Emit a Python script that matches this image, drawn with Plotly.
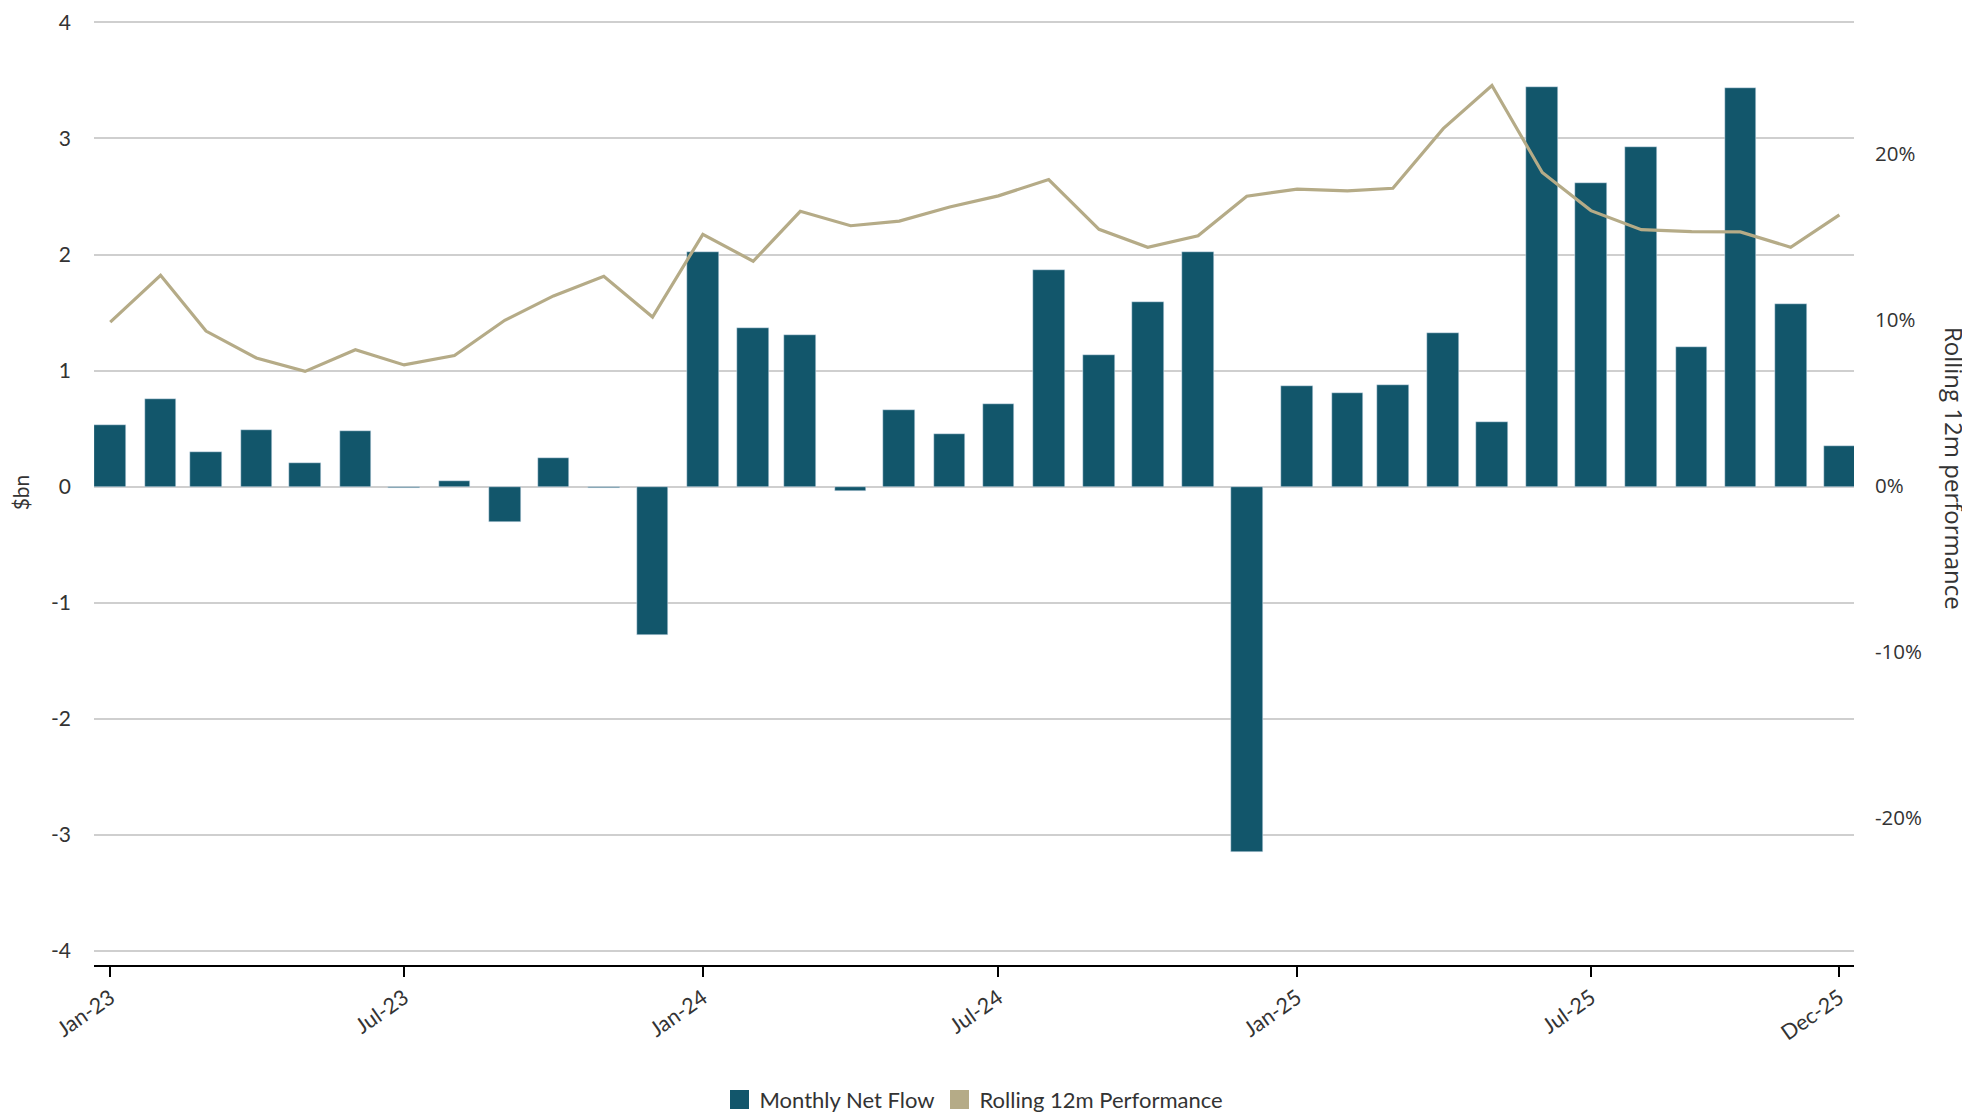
import plotly.graph_objects as go

months = [f"{y}-{m:02d}-01" for y in (2023, 2024, 2025) for m in range(1, 13)]

net_flow = [0.53, 0.755, 0.30, 0.486, 0.20, 0.477, -0.015, 0.053, -0.30, 0.245, -0.015, -1.28,
            2.02, 1.37, 1.31, -0.04, 0.66, 0.452, 0.712, 1.864, 1.136, 1.588, 2.02, -3.15,
            0.867, 0.808, 0.876, 1.328, 0.557, 3.443, 2.619, 2.923, 1.204, 3.433, 1.57, 0.347]

rolling_perf = [9.88, 12.70, 9.34, 7.72, 6.91, 8.21, 7.30, 7.87, 9.99, 11.46, 12.64, 10.19,
                15.17, 13.55, 16.56, 15.69, 15.97, 16.82, 17.49, 18.47, 15.47, 14.39, 15.08, 17.47,
                17.90, 17.79, 17.95, 21.54, 24.14, 18.90, 16.60, 15.45, 15.34, 15.32, 14.39, 16.34]
rolling_perf = [v / 100 for v in rolling_perf]

tick_dates = ["2023-01-01", "2023-07-01", "2024-01-01", "2024-07-01", "2025-01-01", "2025-07-01", "2025-12-01"]
tick_labels = ["Jan-23", "Jul-23", "Jan-24", "Jul-24", "Jan-25", "Jul-25", "Dec-25"]
left_ticks = [-4, -3, -2, -1, 0, 1, 2, 3, 4]
left_labels = ["-4", "-3", "-2", "-1", "0", "1", "2", "3", "4"]
right_ticks = [-0.2, -0.1, 0, 0.1, 0.2]
right_labels = ["-20%", "-10%", "0%", "10%", "20%"]

BAR = "#12566b"
LINE = "#b5ab87"
TXT = "#333333"
FONT = "Lato"
FONT_R = "Open Sans"

fig = go.Figure()
fig.add_trace(go.Bar(x=months, y=net_flow, name="Monthly Net Flow", marker_color=BAR,
                     width=19.5 * 86400000, yaxis="y", showlegend=False))
fig.add_trace(go.Scatter(x=months, y=rolling_perf, mode="lines", line=dict(color=LINE, width=3.2),
                         name="Rolling 12m Performance", yaxis="y2", showlegend=False))
fig.add_trace(go.Scatter(x=[None], y=[None], mode="markers", yaxis="y",
                         marker=dict(symbol="square", size=16, color=BAR, line=dict(color=BAR, width=3)),
                         name="Monthly Net Flow"))
fig.add_trace(go.Scatter(x=[None], y=[None], mode="markers", yaxis="y2",
                         marker=dict(symbol="square", size=16, color=LINE, line=dict(color=LINE, width=3)),
                         name="Rolling 12m Performance"))

fig.update_layout(
    width=1970, height=1114,
    margin=dict(l=86, r=124, t=12, b=157),
    plot_bgcolor="white", paper_bgcolor="white",
    font=dict(family=FONT, size=21, color=TXT),
    bargap=0,
    xaxis=dict(type="date", range=["2022-12-22", "2025-12-10"], tickvals=tick_dates, ticktext=tick_labels,
               tickangle=-35, showgrid=False, showline=True, linecolor="black", linewidth=2,
               ticks="outside", ticklen=10, tickwidth=2, tickcolor="black", automargin=False,
               tickfont=dict(size=21.5, color=TXT)),
    yaxis=dict(range=[-4.12, 4.02], tickvals=left_ticks, ticktext=left_labels, showgrid=True,
               gridcolor="#cfcfcf", gridwidth=2, automargin=False,
               zeroline=False, ticks="", ticklabelstandoff=22,
               title=dict(text="$bn", font=dict(size=21, color=TXT), standoff=28),
               tickfont=dict(size=21, color=TXT)),
    yaxis2=dict(range=[-0.2887, 0.2809], overlaying="y", side="right", tickvals=right_ticks,
                ticktext=right_labels, showgrid=False, zeroline=False, ticks="", ticklabelstandoff=20,
                automargin=False, tickfont=dict(family=FONT_R, size=20.5, color=TXT)),
    legend=dict(orientation="h", x=0.5, xanchor="center", yref="container", y=0.02, yanchor="middle",
                font=dict(size=22, color=TXT), itemsizing="trace", traceorder="normal",
                itemwidth=30),
    annotations=[dict(text="Rolling 12m performance", textangle=90, xref="paper", yref="paper",
                      x=1.0568, y=0.525, xanchor="center", yanchor="middle", showarrow=False,
                      font=dict(family=FONT_R, size=24, color=TXT))],
)

fig.write_html("out.html")
